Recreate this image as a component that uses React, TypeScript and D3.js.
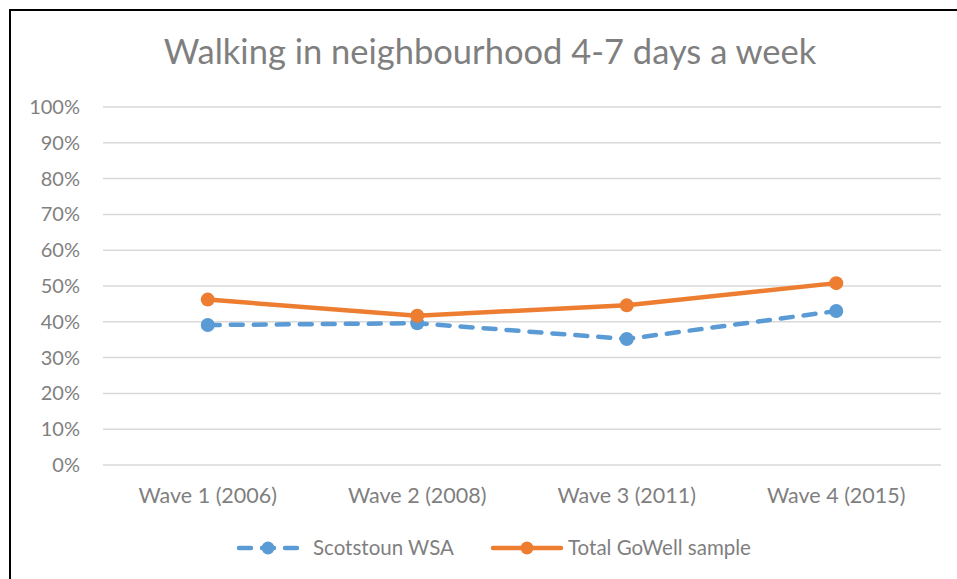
import React from "react";
import * as d3 from "d3";

const categories = ["Wave 1 (2006)", "Wave 2 (2008)", "Wave 3 (2011)", "Wave 4 (2015)"];
const scotstoun = [39.1, 39.6, 35.2, 43.0];
const totalGoWell = [46.2, 41.7, 44.6, 50.8];
const yTicks = [0, 10, 20, 30, 40, 50, 60, 70, 80, 90, 100];
const seriesNames = ["Scotstoun WSA", "Total GoWell sample"];

const W = 957;
const H = 579;
const margin = { top: 107, right: 16, bottom: 114, left: 103 };
const BLUE = "#5B9BD5";
const ORANGE = "#ED7D31";
const TEXT = "#7f7f7f";
const FONT = "Lato, 'Open Sans', sans-serif";

export default function App() {
  const x = d3
    .scaleBand<string>()
    .domain(categories)
    .range([margin.left, W - margin.right]);
  const y = d3
    .scaleLinear()
    .domain([0, 100])
    .range([H - margin.bottom, margin.top]);

  const cx = (c: string) => (x(c) ?? 0) + x.bandwidth() / 2;
  const line = d3
    .line<number>()
    .x((_, i) => cx(categories[i]))
    .y((d) => y(d));

  const series = [
    { name: seriesNames[0], values: scotstoun, color: BLUE, dash: "12 11" },
    { name: seriesNames[1], values: totalGoWell, color: ORANGE, dash: undefined },
  ];

  // legend layout
  const legendY = 548;
  const legend = [
    { x0: 237, x1: 299, textX: 313 },
    { x0: 491, x1: 563, textX: 568 },
  ];

  return (
    <div style={{ position: "absolute", left: 0, top: 0 }}>
      <svg width={W} height={H} style={{ display: "block", background: "#fff" }}>
        {/* chart frame */}
        <path d={`M10,${H + 5} L10,10 L${W + 5},10`} fill="none" stroke="#000" strokeWidth={2} />

        <text
          x={490}
          y={64}
          textAnchor="middle"
          fill={TEXT}
          fontFamily={FONT}
          fontSize={34.5}
        >
          Walking in neighbourhood 4-7 days a week
        </text>

        {/* grid + y labels */}
        {yTicks.map((t) => (
          <g key={t}>
            <line
              x1={margin.left}
              x2={W - margin.right}
              y1={y(t)}
              y2={y(t)}
              stroke="#d9d9d9"
              strokeWidth={1.5}
            />
            <text
              x={80}
              y={y(t)}
              dy="0.35em"
              textAnchor="end"
              fill={TEXT}
              fontFamily={FONT}
              fontSize={20}
            >
              {t}%
            </text>
          </g>
        ))}

        {/* x labels */}
        {categories.map((c) => (
          <text
            key={c}
            x={cx(c)}
            y={503}
            textAnchor="middle"
            fill={TEXT}
            fontFamily={FONT}
            fontSize={21.5}
          >
            {c}
          </text>
        ))}

        {/* series */}
        {series.map((s) => (
          <g key={s.name}>
            <path
              d={line(s.values) ?? ""}
              fill="none"
              stroke={s.color}
              strokeWidth={4.5}
              strokeDasharray={s.dash}
              strokeLinecap="round"
              strokeLinejoin="round"
            />
            {s.values.map((v, i) => (
              <circle key={i} cx={cx(categories[i])} cy={y(v)} r={7} fill={s.color} />
            ))}
          </g>
        ))}

        {/* legend */}
        {series.map((s, i) => {
          const l = legend[i];
          return (
            <g key={s.name}>
              <line
                x1={l.x0 + 2}
                x2={l.x1 - 2}
                y1={legendY}
                y2={legendY}
                stroke={s.color}
                strokeWidth={4.5}
                strokeLinecap="round"
                strokeDasharray={s.dash}
              />
              <circle cx={(l.x0 + l.x1) / 2} cy={legendY} r={6.5} fill={s.color} />
              <text
                x={l.textX}
                y={legendY}
                dy="0.35em"
                fill={TEXT}
                fontFamily={FONT}
                fontSize={20.5}
              >
                {s.name}
              </text>
            </g>
          );
        })}
      </svg>
    </div>
  );
}
